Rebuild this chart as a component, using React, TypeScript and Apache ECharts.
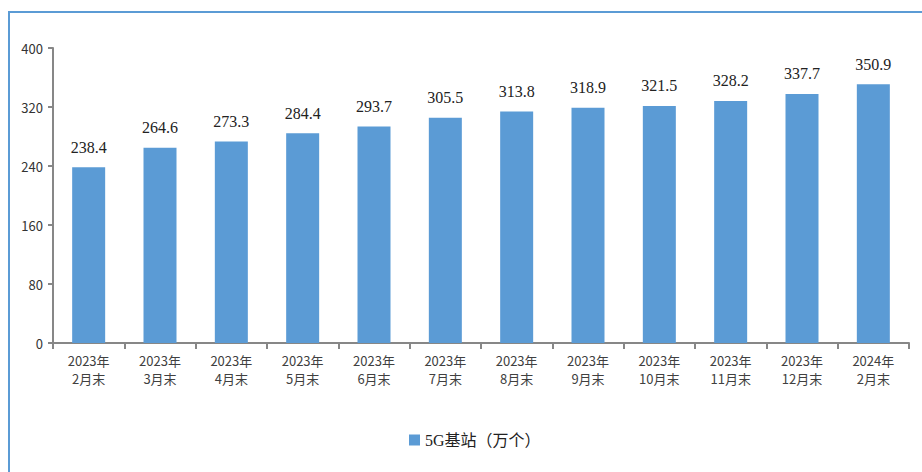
import React, { useEffect, useRef } from "react";
import * as echarts from "echarts";

const categories = [
  "2023年\n2月末", "2023年\n3月末", "2023年\n4月末", "2023年\n5月末",
  "2023年\n6月末", "2023年\n7月末", "2023年\n8月末", "2023年\n9月末",
  "2023年\n10月末", "2023年\n11月末", "2023年\n12月末", "2024年\n2月末",
];
const values = [238.4, 264.6, 273.3, 284.4, 293.7, 305.5, 313.8, 318.9, 321.5, 328.2, 337.7, 350.9];
const seriesName = "5G基站（万个）";
const yMin = 0;
const yMax = 400;
const yInterval = 80;

export default function App() {
  const ref = useRef<HTMLDivElement>(null);
  useEffect(() => {
    if (!ref.current) return;
    const chart = echarts.init(ref.current, undefined, { renderer: "svg" });
    chart.setOption({
      animation: false,
      backgroundColor: "#ffffff",
      graphic: [
        {
          type: "rect",
          shape: { x: 9, y: 12, width: 960, height: 520 },
          style: { fill: "none", stroke: "#5b9bd5", lineWidth: 2 },
          silent: true,
        },
      ],
      grid: { left: 53, right: 13, top: 48, bottom: 129, containLabel: false },
      legend: {
        data: [seriesName],
        top: 427,
        left: 404,
        itemWidth: 11,
        itemHeight: 11,
        itemGap: 6,
        icon: "rect",
        textStyle: {
          fontFamily: "'Liberation Serif', 'Noto Sans CJK SC', serif",
          fontSize: 16,
          fontWeight: "normal",
          color: "#222",
        },
      },
      xAxis: {
        type: "category",
        data: categories,
        axisLine: { lineStyle: { color: "#878787", width: 2 } },
        axisTick: { show: true, length: 6, lineStyle: { color: "#878787", width: 2 } },
        axisLabel: {
          color: "#404040",
          fontSize: 13,
          lineHeight: 18,
          margin: 8,
          interval: 0,
          fontFamily: "'Noto Sans CJK SC', sans-serif",
        },
      },
      yAxis: {
        type: "value",
        min: yMin,
        max: yMax,
        interval: yInterval,
        axisLine: { show: true, lineStyle: { color: "#878787", width: 2 } },
        axisTick: { show: true, length: 5, lineStyle: { color: "#878787", width: 2 } },
        splitLine: { show: false },
        axisLabel: {
          color: "#333",
          fontSize: 13,
          margin: 10,
          fontFamily: "'Noto Sans CJK SC', sans-serif",
        },
      },
      series: [
        {
          name: seriesName,
          type: "bar",
          data: values,
          barWidth: 33,
          itemStyle: { color: "#5b9bd5" },
          label: {
            show: true,
            position: "top",
            distance: 12,
            color: "#222",
            fontSize: 16,
            fontFamily: "'Liberation Serif', serif",
            formatter: (p: any) => p.value.toFixed(1),
          },
        },
      ],
    });
    return () => chart.dispose();
  }, []);
  return (
    <div
      ref={ref}
      style={{ position: "absolute", left: 0, top: 0, width: 922, height: 472 }}
    />
  );
}
